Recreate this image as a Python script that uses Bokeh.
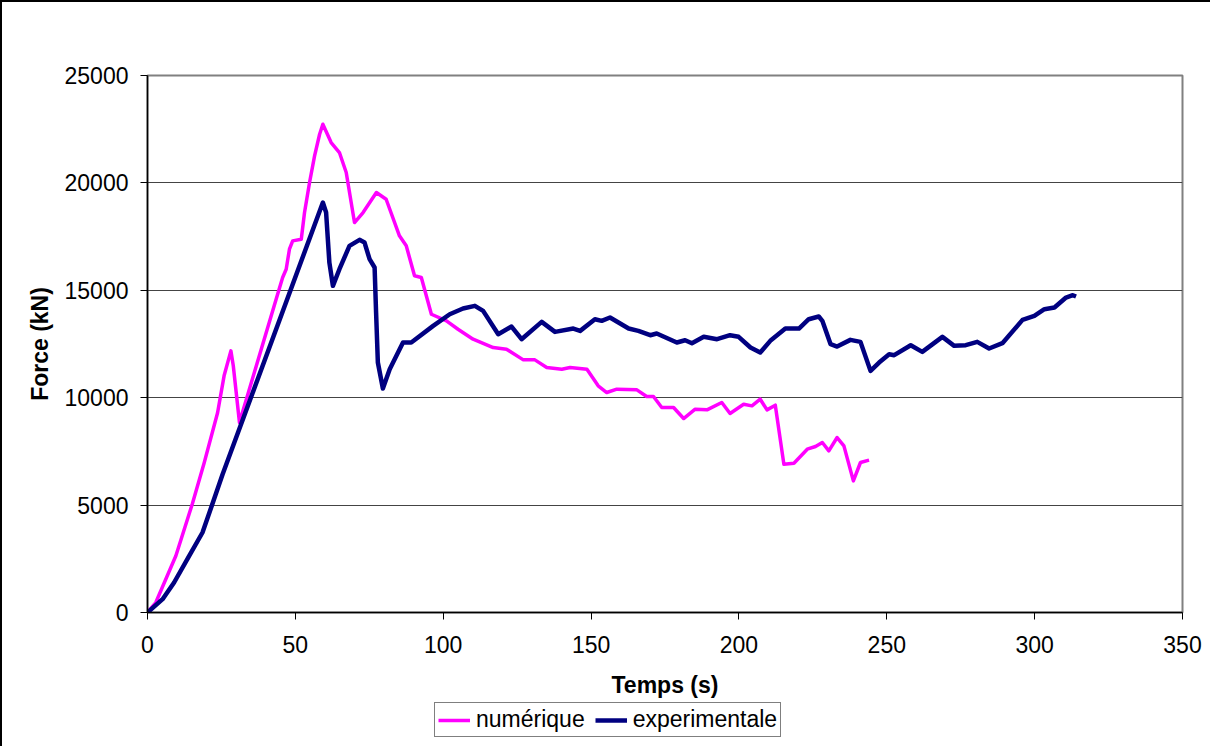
from bokeh.plotting import figure
from bokeh.models import Legend, LegendItem, FixedTicker
from bokeh.layouts import column
from bokeh.embed import file_html
from bokeh.resources import INLINE

# numérique
num_t = [0, 2.8, 9.6, 15.2, 19.2, 23.7, 25.9, 28.2, 29.0, 31.1, 43.5, 45.7, 46.9, 48.0,
         49.1, 52.0, 53.1, 54.8, 56.5, 58.2, 59.3, 62.1, 64.9, 67.2, 70.0, 72.9, 77.4,
         80.7, 85.2, 87.5, 90.3, 92.6, 96.0, 101.1, 105.0, 110.1, 116.9, 121.4, 127.1,
         131.0, 135.0, 140.1, 142.9, 148.6, 152.4, 155.3, 158.7, 165.5, 168.8, 171.1,
         173.9, 177.9, 181.3, 185.2, 189.2, 194.2, 197.0, 201.6, 204.4, 207.2, 209.5,
         212.3, 215.2, 218.6, 223.1, 225.9, 228.2, 230.4, 233.2, 235.5, 238.7, 241.1, 244.0]
num_f = [0, 465, 2639, 5074, 6983, 9300, 11018, 12180, 11500, 8845, 14585, 15594, 15981,
         16912, 17302, 17380, 18620, 20016, 21258, 22265, 22730, 21879, 21413, 20482,
         18154, 18620, 19551, 19240, 17535, 17070, 15674, 15597, 13886, 13577, 13188,
         12723, 12336, 12258, 11761, 11761, 11405, 11327, 11405, 11327, 10552, 10241,
         10396, 10365, 10055, 10055, 9543, 9543, 9031, 9465, 9434, 9775, 9263, 9698, 9620,
         9930, 9434, 9651, 6903, 6950, 7602, 7727, 7913, 7525, 8146, 7758, 6128, 6983, 7091]

# experimentale
exp_t = [0, 5.1, 9.0, 14.1, 18.6, 22.0, 25.4, 59.3, 60.4, 61.5, 62.7, 64.9, 68.3, 71.7,
         73.4, 75.1, 76.8, 77.3, 77.9, 79.6, 81.9, 86.4, 89.2, 96.6, 102.2, 106.7, 110.7,
         113.5, 118.6, 123.1, 126.5, 133.3, 137.8, 144.0, 146.3, 151.3, 153.6, 156.4,
         162.7, 166.0, 170.0, 172.2, 179.0, 181.8, 184.1, 188.1, 192.6, 197.0, 199.9,
         203.9, 207.2, 210.6, 215.7, 220.3, 223.6, 227.0, 228.2, 231.0, 233.2, 237.7,
         241.1, 244.5, 247.4, 250.8, 252.5, 258.1, 262.0, 268.8, 272.8, 276.7, 280.6,
         284.6, 289.1, 295.9, 299.9, 303.3, 306.7, 310.6, 312.9, 314.0]
exp_f = [0, 620, 1397, 2639, 3724, 5074, 6438, 19085, 18620, 16293, 15208, 15981, 17070,
         17349, 17224, 16448, 16060, 13965, 11638, 10427, 11327, 12568, 12568, 13344,
         13886, 14151, 14275, 14042, 12956, 13313, 12723, 13530, 13064, 13219, 13111,
         13654, 13577, 13732, 13219, 13111, 12909, 12987, 12568, 12676, 12537, 12835,
         12723, 12909, 12835, 12336, 12103, 12646, 13219, 13219, 13654, 13779, 13577,
         12490, 12382, 12692, 12599, 11249, 11638, 12024, 11979, 12444, 12134, 12832,
         12413, 12444, 12599, 12289, 12537, 13623, 13810, 14120, 14198, 14663, 14771, 14710]

x_ticks = [0, 50, 100, 150, 200, 250, 300, 350]
y_ticks = [0, 5000, 10000, 15000, 20000, 25000]
series_names = ["numérique", "experimentale"]
series_colors = ["#FF00FF", "#000080"]

FONT = "Liberation Sans"

p = figure(width=1208, height=698, output_backend="svg", toolbar_location=None,
           x_range=(0, 350), y_range=(0, 25000),
           min_border_left=145, min_border_right=28, min_border_top=73, min_border_bottom=88)

p.background_fill_color = "white"
p.border_fill_color = "white"
p.outline_line_color = "#808080"
p.outline_line_width = 2

for ax in (p.xaxis[0], p.yaxis[0]):
    ax.axis_line_color = "black"
    ax.axis_line_width = 1.5
    ax.major_tick_line_color = "black"
    ax.major_tick_out = 7
    ax.major_tick_in = 0
    ax.minor_tick_out = 0
    ax.minor_tick_in = 0
    ax.major_label_text_font = FONT
    ax.major_label_text_font_size = "23px"
    ax.major_label_text_color = "black"
    ax.axis_label_text_font = FONT
    ax.axis_label_text_font_size = "23px"
    ax.axis_label_text_font_style = "bold"
    ax.axis_label_text_color = "black"

p.xaxis.ticker = FixedTicker(ticks=x_ticks)
p.yaxis.ticker = FixedTicker(ticks=y_ticks)
p.xaxis.axis_label = "Temps (s)"
p.yaxis.axis_label = "Force (kN)"
p.xaxis.major_label_standoff = 16
p.yaxis.major_label_standoff = 12
p.xaxis.axis_label_standoff = 16
p.yaxis.axis_label_standoff = 9

p.xgrid.grid_line_color = None
p.ygrid.grid_line_color = "#444444"
p.ygrid.grid_line_width = 1

p.line(num_t, num_f, line_color=series_colors[0], line_width=3.5, line_join="round")
p.line(exp_t, exp_f, line_color=series_colors[1], line_width=4.5, line_join="round")

# legend strip below the chart (dummy renderers lie outside the visible range)
lg = figure(width=1208, height=46, output_backend="svg", toolbar_location=None,
            x_range=(0, 1), y_range=(0, 1), x_axis_location=None, y_axis_location=None,
            min_border_left=0, min_border_right=0, min_border_top=0, min_border_bottom=0)
lg.outline_line_color = None
lg.xgrid.grid_line_color = None
lg.ygrid.grid_line_color = None
d1 = lg.line(x=[5, 6], y=[5, 6], line_color=series_colors[0], line_width=3.5)
d2 = lg.line(x=[5, 6], y=[5, 6], line_color=series_colors[1], line_width=4.5)
legend = Legend(items=[LegendItem(label=series_names[0], renderers=[d1]),
                       LegendItem(label=series_names[1], renderers=[d2])],
                orientation="horizontal", location=(287, 9),
                label_text_font=FONT, label_text_font_size="23px", label_text_color="black",
                glyph_width=32, glyph_height=16, label_standoff=6, spacing=10,
                padding=3, margin=0, border_line_color="black", border_line_width=1,
                background_fill_alpha=1, label_height=16)
lg.add_layout(legend, "center")

layout = column(p, lg, spacing=0)
layout.styles = {"border-left": "2px solid black", "border-top": "2px solid black"}

open("out.html", "w").write(file_html(layout, INLINE))
